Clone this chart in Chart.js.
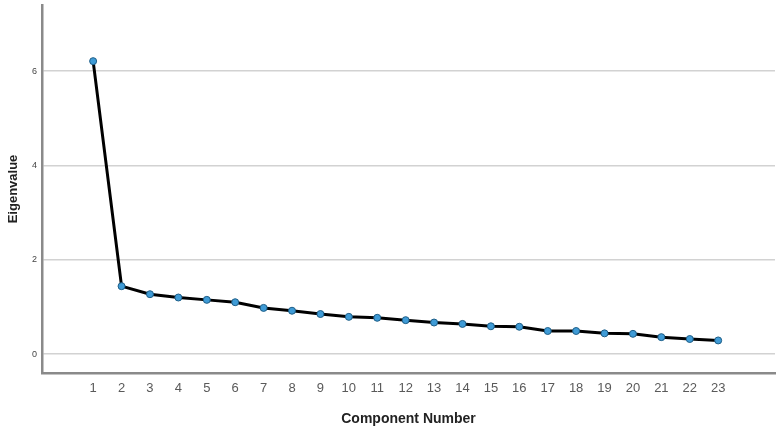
<!DOCTYPE html>
<html>
<head>
<meta charset="utf-8">
<script src="https://cdn.jsdelivr.net/npm/chart.js@4/dist/chart.umd.min.js"></script>
<style>
  html, body { margin: 0; padding: 0; background: #fff; }
  #wrap { width: 780px; height: 431px; }
</style>
</head>
<body>
<div id="wrap"><canvas id="scree"></canvas></div>
<script>
// scree plot data
const components = [1, 2, 3, 4, 5, 6, 7, 8, 9, 10, 11, 12, 13, 14, 15, 16, 17, 18, 19, 20, 21, 22, 23];
const eigenvalues = [6.21, 1.44, 1.27, 1.20, 1.15, 1.10, 0.98, 0.92, 0.85, 0.79, 0.77, 0.72,
                     0.67, 0.64, 0.59, 0.58, 0.49, 0.49, 0.44, 0.43, 0.36, 0.32, 0.29];
const yTicks = [0, 2, 4, 6];

const puntos = components.map((c, i) => ({ x: c, y: eigenvalues[i] }));

const ctx = document.getElementById('scree').getContext('2d');

new Chart(ctx, {
  type: 'line',
  data: {
    datasets: [{
      data: puntos,
      borderColor: '#000',
      borderWidth: 3,
      tension: 0,
      pointRadius: 3.5,
      pointBackgroundColor: '#3f9bd6',
      pointBorderColor: '#1d5d86',
      pointBorderWidth: 1
    }]
  },
  options: {
    responsive: true,
    maintainAspectRatio: false,
    animation: false,
    layout: { padding: { top: 4, right: 4, left: 0, bottom: 0 } },
    plugins: {
      legend: { display: false },
      tooltip: { enabled: false }
    },
    scales: {
      x: {
        type: 'linear',
        min: -0.8,
        max: 25,
        afterBuildTicks: s => { s.ticks = components.map(v => ({ value: v })); },
        afterFit: s => { s.height = 58; },
        grid: { display: false, drawTicks: false },
        border: { display: true, color: '#8a8a8a', width: 2.5 },
        ticks: {
          autoSkip: false,
          maxRotation: 0,
          padding: 8,
          color: '#5a5a5a',
          font: { family: 'Liberation Sans, Arial', size: 13 }
        },
        title: {
          display: true,
          text: 'Component Number',
          color: '#222',
          padding: { top: 6, bottom: 3 },
          font: { family: 'Liberation Sans, Arial', size: 14, weight: 'bold' }
        }
      },
      y: {
        min: -0.4,
        max: 7.4,
        afterBuildTicks: s => { s.ticks = yTicks.map(v => ({ value: v })); },
        afterFit: s => { s.width = 42; s.paddingTop = 0; s.paddingBottom = 0; },
        grid: { color: '#d2d2d2', lineWidth: 1.5, drawTicks: false },
        border: { display: true, color: '#8a8a8a', width: 2.5 },
        ticks: {
          padding: 5,
          color: '#444',
          font: { family: 'Liberation Sans, Arial', size: 9 }
        },
        title: {
          display: true,
          text: 'Eigenvalue',
          color: '#222',
          padding: { top: 6, bottom: 0 },
          font: { family: 'Liberation Sans, Arial', size: 13, weight: 'bold' }
        }
      }
    }
  }
});
</script>
</body>
</html>
